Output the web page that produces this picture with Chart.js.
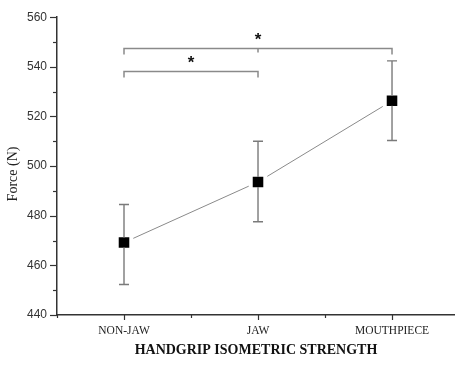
<!DOCTYPE html>
<html lang="en">
<head>
    <meta charset="UTF-8">
    <title>Handgrip isometric strength</title>
    <script src="https://cdn.jsdelivr.net/npm/chart.js@4.4.1/dist/chart.umd.min.js"></script>
    <style>
        html, body {
            margin: 0;
            padding: 0;
            background: #fff;
        }

        #chart {
            display: block;
        }
    </style>
</head>
<body>
    <canvas id="chart" width="455" height="365"></canvas>

    <script>
        // datos
        const categories = ['NON-JAW', 'JAW', 'MOUTHPIECE'];
        const forceMean = [469.2, 493.6, 526.3];
        const forceLow = [452.3, 477.6, 510.3];
        const forceHigh = [484.5, 510.0, 542.4];

        const yMin = 440;
        const yMax = 560;
        const yStep = 20;
        const yTitle = 'Force (N)';

        // barras de significancia (indices de categorias)
        const bracketFrom = [0, 0];
        const bracketTo = [2, 1];
        const bracketLevel = [547.7, 538.5];
        const bracketMark = ['*', '*'];

        const axisColor = '#333';
        const greyLine = '#8a8a8a';

        // ticks, barras de error, corchetes y titulo del eje y
        const extras = {
            id: 'extras',
            afterDatasetsDraw(chart) {
                const { ctx } = chart;
                const x = chart.scales.x;
                const y = chart.scales.y;
                ctx.save();

                // ticks del eje y
                ctx.strokeStyle = axisColor;
                ctx.lineWidth = 1.2;
                for (let v = yMin; v <= yMax; v += yStep / 2) {
                    const py = Math.round(y.getPixelForValue(v)) + 0.5;
                    const len = (v - yMin) % yStep === 0 ? 7 : 4;
                    ctx.beginPath();
                    ctx.moveTo(y.right - len, py);
                    ctx.lineTo(y.right, py);
                    ctx.stroke();
                }

                // ticks del eje x
                for (let v = 0.5; v <= x.max; v += 0.5) {
                    const px = Math.round(x.getPixelForValue(v)) + 0.5;
                    const len = Number.isInteger(v) ? 5 : 3;
                    ctx.beginPath();
                    ctx.moveTo(px, x.top);
                    ctx.lineTo(px, x.top + len);
                    ctx.stroke();
                }

                // barras de error
                ctx.strokeStyle = '#7a7a7a';
                ctx.lineWidth = 1.4;
                categories.forEach((c, i) => {
                    const px = x.getPixelForValue(i + 1);
                    const top = y.getPixelForValue(forceHigh[i]);
                    const bot = y.getPixelForValue(forceLow[i]);
                    const mid = y.getPixelForValue(forceMean[i]);
                    ctx.beginPath();
                    ctx.moveTo(px, top);
                    ctx.lineTo(px, mid - 5);
                    ctx.moveTo(px, mid + 5);
                    ctx.lineTo(px, bot);
                    ctx.moveTo(px - 5, top);
                    ctx.lineTo(px + 5, top);
                    ctx.moveTo(px - 5, bot);
                    ctx.lineTo(px + 5, bot);
                    ctx.stroke();
                });

                // corchetes
                ctx.strokeStyle = greyLine;
                ctx.lineWidth = 1.5;
                ctx.fillStyle = '#111';
                ctx.font = 'bold 17px "Liberation Sans", Arial, sans-serif';
                ctx.textAlign = 'center';
                ctx.textBaseline = 'alphabetic';
                bracketFrom.forEach((f, i) => {
                    const x1 = x.getPixelForValue(f + 1);
                    const x2 = x.getPixelForValue(bracketTo[i] + 1);
                    const py = Math.round(y.getPixelForValue(bracketLevel[i])) + 0.5;
                    ctx.beginPath();
                    ctx.moveTo(x1, py + 6);
                    ctx.lineTo(x1, py);
                    ctx.lineTo(x2, py);
                    ctx.lineTo(x2, py + 6);
                    for (let k = f + 1; k < bracketTo[i]; k++) {
                        const pk = x.getPixelForValue(k + 1);
                        ctx.moveTo(pk, py);
                        ctx.lineTo(pk, py + 4);
                    }
                    ctx.stroke();
                    ctx.fillText(bracketMark[i], (x1 + x2) / 2, py - 4);
                });

                // titulo del eje y (algo por debajo del centro, como en la figura)
                ctx.translate(13, 174);
                ctx.rotate(-Math.PI / 2);
                ctx.fillStyle = '#222';
                ctx.font = '14px "Liberation Serif", "Times New Roman", serif';
                ctx.textBaseline = 'middle';
                ctx.fillText(yTitle, 0, 0);

                ctx.restore();
            }
        };

        new Chart(document.getElementById('chart'), {
            type: 'line',
            data: {
                datasets: [{
                    data: categories.map((c, i) => ({ x: i + 1, y: forceMean[i] })),
                    borderColor: greyLine,
                    borderWidth: 1,
                    tension: 0,
                    pointStyle: 'rect',
                    pointRadius: 10.3,
                    pointBackgroundColor: '#000',
                    pointBorderColor: '#fff',
                    pointBorderWidth: 4
                }]
            },
            options: {
                responsive: false,
                devicePixelRatio: 1,
                animation: false,
                events: [],
                layout: {
                    autoPadding: false,
                    padding: { left: 0, top: 15, right: 0, bottom: 0 }
                },
                plugins: {
                    legend: { display: false },
                    tooltip: { enabled: false }
                },
                scales: {
                    x: {
                        type: 'linear',
                        min: 0.5,
                        max: 3.47,
                        afterBuildTicks: s => {
                            s.ticks = categories.map((c, i) => ({ value: i + 1 }));
                        },
                        afterFit: s => {
                            s.height = 50;
                            s.paddingLeft = 0;
                            s.paddingRight = 0;
                        },
                        grid: { display: false, drawTicks: false },
                        border: { color: axisColor, width: 1.5 },
                        ticks: {
                            autoSkip: false,
                            maxRotation: 0,
                            padding: 9,
                            color: '#222',
                            font: { family: '"Liberation Serif", "Times New Roman", serif', size: 11.5 },
                            callback: v => categories[v - 1] || ''
                        },
                        title: {
                            display: true,
                            text: 'HANDGRIP ISOMETRIC STRENGTH',
                            color: '#111',
                            padding: { top: 0, bottom: 6 },
                            font: { family: '"Liberation Serif", "Times New Roman", serif', size: 14, weight: 'bold' }
                        }
                    },
                    y: {
                        min: yMin,
                        max: yMax,
                        afterFit: s => {
                            s.width = 57;
                        },
                        grid: { display: false, drawTicks: false },
                        border: { color: axisColor, width: 1.5 },
                        ticks: {
                            stepSize: yStep,
                            padding: 10,
                            color: '#333',
                            font: { family: '"Liberation Sans", Arial, sans-serif', size: 12 }
                        },
                        title: { display: false }
                    }
                }
            },
            plugins: [extras]
        });
    </script>
</body>
</html>
